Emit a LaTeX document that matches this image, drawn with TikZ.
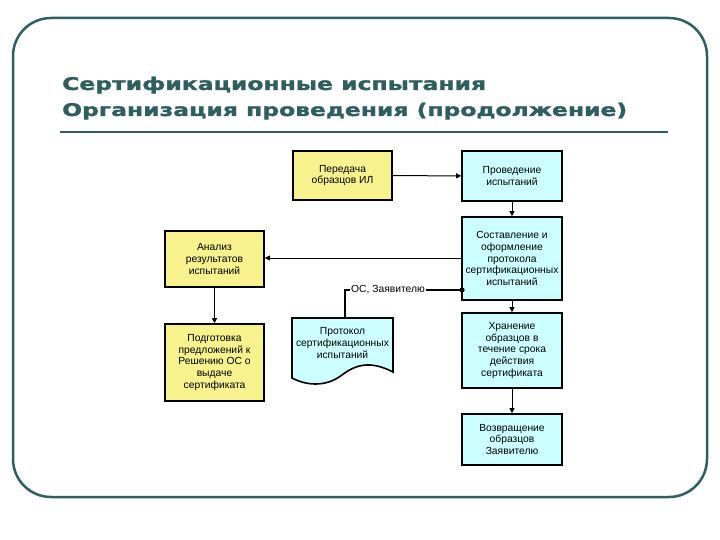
\documentclass[tikz,border=0pt]{standalone}
\usepackage{fontspec}
\setmainfont{Liberation Sans}
\newfontfamily\titlefont[FakeBold=1.2]{DejaVu Sans Bold}
\usetikzlibrary{arrows.meta,shapes.symbols}
\definecolor{frame}{HTML}{2F5E5E}
\definecolor{ybox}{HTML}{F8F28E}
\definecolor{cbox}{HTML}{CCFFFF}
\begin{document}
\begin{tikzpicture}[x=1pt,y=-1pt,
  box/.style={draw=black,line width=1.6pt,align=center,font=\fontsize{10.3}{11.8}\selectfont,inner sep=2pt},
  ybx/.style={box,fill=ybox},
  cbx/.style={box,fill=cbox},
  conn/.style={draw,line width=1pt,-{Triangle[length=5pt,width=5pt]}},
  ttl/.style={anchor=base west,frame,font=\titlefont\fontsize{17.5}{21}\selectfont,inner sep=0pt},
]
\useasboundingbox (0,0) rectangle (720,540);
\fill[white] (0,0) rectangle (720,540);
\draw[frame,line width=2.5pt,rounded corners=38pt] (13,18) rectangle (707,497);
\node[ttl] (title1) at (62,90) {\scalebox{1.34}[1]{Сертификационные испытания}};
\node[ttl] (title2) at (62,116) {\scalebox{1.34}[1]{Организация проведения (продолжение)}};
\draw[frame,line width=2.2pt] (60,132) -- (668,132);

\node[ybx,minimum width=99pt,minimum height=49pt] (a) at (342.5,175.5) {Передача\\образцов ИЛ};
\node[cbx,minimum width=100pt,minimum height=50pt] (b) at (512,176) {Проведение\\испытаний};
\node[cbx,minimum width=100pt,minimum height=83pt] (c) at (512,258.5) {Составление и\\оформление\\протокола\\сертификационных\\испытаний};
\node[ybx,minimum width=99pt,minimum height=56pt] (d) at (214.5,259) {Анализ\\результатов\\испытаний};
\node[ybx,minimum width=99pt,minimum height=77pt] (e) at (214.5,362.5) {Подготовка\\предложений к\\Решению ОС о\\выдаче\\сертификата};
\node[cbx,minimum width=100pt,minimum height=75pt] (f) at (512,350.5) {Хранение\\образцов в\\течение срока\\действия\\сертификата};
\node[cbx,minimum width=100pt,minimum height=51pt] (g) at (512,439.5) {Возвращение\\образцов\\Заявителю};

% document shape
\coordinate (p) at (345,318);
\draw[fill=cbox,line width=1.6pt] (292,318) -- (393,318) -- (393,372)
  .. controls (370,360) and (355,365) .. (342,375)
  .. controls (325,388) and (305,385) .. (292,378) -- cycle;
\node[font=\fontsize{10.3}{11.8}\selectfont,align=center] (pt) at (342.5,343) {Протокол\\сертификационных\\испытаний};

\draw[conn] (a) -- (b);
\draw[conn] (b) -- (c);
\draw[conn] (c.west |- 0,258) -- (d.east |- 0,258);
\draw[conn] (d) -- (e);
\draw[conn] (c) -- (f);
\draw[conn] (f) -- (g);
\coordinate (dot) at (462,290);
\fill (dot) circle (2.6pt);
\draw[line width=1.3pt] (dot) -- (345,290) -- (p);
\node[fill=white,inner sep=1pt,font=\fontsize{10.3}{11}\selectfont] (lab) at (388,290) {ОС, Заявителю};
\end{tikzpicture}
\end{document}
